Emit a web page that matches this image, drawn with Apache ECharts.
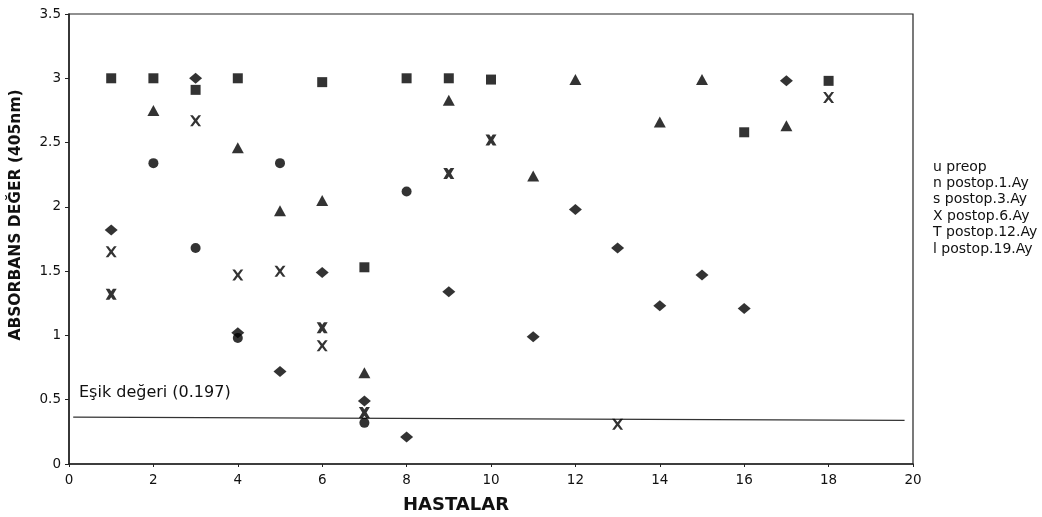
<!DOCTYPE html>
<html>
<head>
<meta charset="utf-8">
<script src="https://cdn.jsdelivr.net/npm/echarts@6/dist/echarts.min.js"></script>
<style>
  html, body { margin: 0; padding: 0; background: #fff; }
  #chart { width: 1042px; height: 517px; }
</style>
</head>
<body>
<div id="chart"></div>
<script>
  // hasta no / absorbans, her seri için okunan noktalar
  var preop = [[1, 1.82], [3, 3.0], [4, 1.02], [5, 0.72], [6, 1.49], [7, 0.49], [8, 0.21], [9, 1.34],
    [11, 0.99], [12, 1.98], [13, 1.68], [14, 1.23], [15, 1.47], [16, 1.21], [17, 2.98]];
  var postop1 = [[1, 3.0], [2, 3.0], [3, 2.91], [4, 3.0], [6, 2.97], [7, 1.53], [8, 3.0], [9, 3.0],
    [10, 2.99], [16, 2.58], [18, 2.98]];
  var postop3 = [[2, 2.75], [4, 2.46], [5, 1.97], [6, 2.05], [7, 0.71], [9, 2.83], [11, 2.24],
    [12, 2.99], [14, 2.66], [15, 2.99], [17, 2.63]];
  var postop6 = [[1, 1.65], [3, 2.67], [4, 1.47], [5, 1.50], [6, 0.92], [13, 0.31], [18, 2.85]];
  var postop12 = [[1, 1.32], [6, 1.06], [7, 0.40], [9, 2.26], [10, 2.52]];
  var postop19 = [[2, 2.34], [3, 1.68], [4, 0.98], [5, 2.34], [7, 0.32], [8, 2.12]];
  var esikLine = [[0.1, 0.365], [19.8, 0.34]];

  var seriesNames = ['preop', 'postop.1.Ay', 'postop.3.Ay', 'postop.6.Ay', 'postop.12.Ay', 'postop.19.Ay'];
  var legendPrefix = ['u', 'n', 's', 'X', 'T', 'l'];
  var xTicks = [0, 2, 4, 6, 8, 10, 12, 14, 16, 18, 20];
  var yTicks = [0, 0.5, 1, 1.5, 2, 2.5, 3, 3.5];

  var crossThin = 'path://M0,0 L2.4,0 L5,3.3 L7.6,0 L10,0 L6.4,5 L10,10 L7.6,10 L5,6.7 L2.4,10 L0,10 L3.6,5 Z';
  var crossBold = 'path://M0,0 L3.4,0 L5,2.2 L6.6,0 L10,0 L7,5 L10,10 L6.6,10 L5,7.8 L3.4,10 L0,10 L3,5 Z';

  var ink = '#000';
  var font = 'DejaVu Sans, Liberation Sans, sans-serif';

  function scatter(name, data, symbol, size) {
    return {
      name: name,
      type: 'scatter',
      data: data,
      symbol: symbol,
      symbolSize: size,
      itemStyle: { color: ink },
      z: 3
    };
  }

  var chart = echarts.init(document.getElementById('chart'));
  chart.setOption({
    backgroundColor: '#fff',
    animation: false,
    textStyle: { fontFamily: font, color: '#111' },
    grid: {
      left: 69, top: 14, right: 129, bottom: 53,
      outerBoundsMode: 'none',
      show: true, borderColor: '#222', borderWidth: 1.2
    },
    legend: {
      orient: 'vertical',
      left: 928, top: 155,
      icon: 'none',
      itemWidth: 0, itemHeight: 14, itemGap: 2.4,
      data: seriesNames,
      formatter: function (n) { return legendPrefix[seriesNames.indexOf(n)] + ' ' + n; },
      textStyle: { fontSize: 14, fontFamily: font, color: '#111', lineHeight: 14, padding: [0, 0, 0, -5] }
    },
    xAxis: {
      type: 'value',
      min: xTicks[0], max: xTicks[xTicks.length - 1], interval: 2,
      name: 'HASTALAR',
      nameLocation: 'middle', nameGap: 32,
      nameTextStyle: { fontSize: 18, fontWeight: 'bold', fontFamily: font, color: '#111', padding: [0, 70, 0, 0] },
      axisLine: { lineStyle: { color: '#222', width: 1.5 } },
      axisTick: { length: 3, lineStyle: { color: '#222' } },
      axisLabel: { fontSize: 13.5, color: '#111', margin: 9 },
      splitLine: { show: false }
    },
    yAxis: {
      type: 'value',
      min: yTicks[0], max: yTicks[yTicks.length - 1], interval: 0.5,
      name: 'ABSORBANS DEĞER (405nm)',
      nameLocation: 'middle', nameGap: 45, nameRotate: 90,
      nameTextStyle: { fontSize: 15.5, fontWeight: 'bold', fontFamily: font, color: '#111', padding: [0, 0, 0, 48] },
      axisLine: { show: true, lineStyle: { color: '#222', width: 1.5 } },
      axisTick: { show: true, length: 4, lineStyle: { color: '#222' } },
      axisLabel: { fontSize: 13.5, color: '#111', margin: 8 },
      splitLine: { show: false }
    },
    graphic: [{
      type: 'text', left: 79, top: 385,
      style: { text: 'Eşik değeri (0.197)', fontSize: 16, fill: '#111', fontFamily: font }
    }],
    series: [
      scatter(seriesNames[0], preop, 'diamond', [13, 11]),
      scatter(seriesNames[1], postop1, 'rect', 10),
      scatter(seriesNames[2], postop3, 'triangle', [12, 11]),
      scatter(seriesNames[3], postop6, crossThin, 11),
      scatter(seriesNames[4], postop12, crossBold, 11),
      scatter(seriesNames[5], postop19, 'circle', 10),
      {
        name: 'esik',
        type: 'line',
        data: esikLine,
        showSymbol: false,
        symbol: 'none',
        lineStyle: { color: '#333', width: 1.2 },
        z: 2
      }
    ]
  });
</script>
</body>
</html>
